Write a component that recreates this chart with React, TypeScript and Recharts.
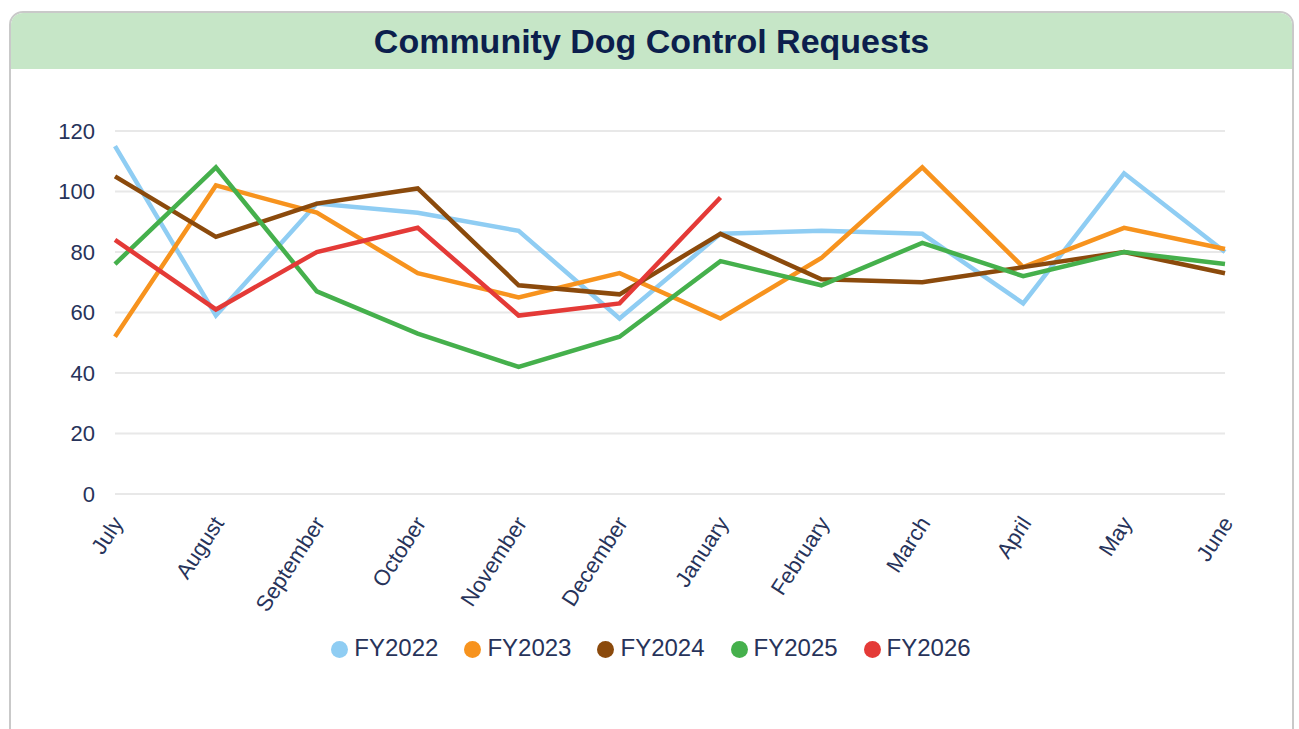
import React from 'react';
import { LineChart, Line, XAxis, YAxis, CartesianGrid, Legend } from 'recharts';

const months = ['July', 'August', 'September', 'October', 'November', 'December', 'January', 'February', 'March', 'April', 'May', 'June'];
const fy2022 = [115, 59, 96, 93, 87, 58, 86, 87, 86, 63, 106, 80];
const fy2023 = [52, 102, 93, 73, 65, 73, 58, 78, 108, 75, 88, 81];
const fy2024 = [105, 85, 96, 101, 69, 66, 86, 71, 70, 75, 80, 73];
const fy2025 = [76, 108, 67, 53, 42, 52, 77, 69, 83, 72, 80, 76];
const fy2026: (number | null)[] = [84, 61, 80, 88, 59, 63, 98, null, null, null, null, null];
const yTicks = [0, 20, 40, 60, 80, 100, 120];

const series = [
  { key: 'FY2022', values: fy2022, color: '#8fcdf3' },
  { key: 'FY2023', values: fy2023, color: '#f7931e' },
  { key: 'FY2024', values: fy2024, color: '#8b4a0c' },
  { key: 'FY2025', values: fy2025, color: '#45b04c' },
  { key: 'FY2026', values: fy2026, color: '#e43a37' },
];

const data = months.map((m, i) => {
  const row: Record<string, string | number | null> = { month: m };
  series.forEach(s => { row[s.key] = s.values[i]; });
  return row;
});

const FONT = '"Liberation Sans", Arial, sans-serif';
const TEXT = '#27335a';

function MonthTick(props: any) {
  const { x, y, payload } = props;
  const ax = x + 9;
  const ay = y + 21;
  return (
    <text
      x={ax}
      y={ay}
      transform={`rotate(-57, ${ax}, ${ay})`}
      textAnchor="end"
      fontSize={22}
      fill={TEXT}
      fontFamily={FONT}
    >
      {payload.value}
    </text>
  );
}

export default function App() {
  return (
    <div style={{ position: 'absolute', left: 0, top: 0, width: 1299, height: 729, overflow: 'hidden', background: '#fff', fontFamily: FONT }}>
      <div style={{
        position: 'absolute', left: 9, top: 11, width: 1281, height: 740,
        border: '2px solid #c9c9c9', borderRadius: 14, overflow: 'hidden', background: '#fff',
      }}>
        <div style={{
          height: 56, background: '#c6e6c7', display: 'flex', alignItems: 'center', justifyContent: 'center',
          fontSize: 34, fontWeight: 700, color: '#0c1f4d',
        }}>
          Community Dog Control Requests
        </div>
      </div>
      <div style={{ position: 'absolute', left: 0, top: 0 }}>
        <LineChart width={1299} height={729} data={data} margin={{ top: 131, right: 74, left: 55, bottom: 67 }}>
          <CartesianGrid stroke="#e8e8e8" strokeWidth={2} vertical={false} />
          <XAxis
            dataKey="month"
            axisLine={false}
            tickLine={false}
            interval={0}
            height={140}
            tick={<MonthTick />}
          />
          <YAxis
            domain={[0, 120]}
            ticks={yTicks}
            width={60}
            axisLine={false}
            tickLine={false}
            tickMargin={14}
            tick={{ fontSize: 22, fill: TEXT, fontFamily: FONT }}
          />
          <Legend
            verticalAlign="bottom"
            align="center"
            iconType="circle"
            iconSize={17}
            wrapperStyle={{ fontSize: 24, fontFamily: FONT, left: 79 }}
            formatter={(v: string) => <span style={{ color: TEXT, marginLeft: 2, marginRight: 16 }}>{v}</span>}
          />
          {series.map(s => (
            <Line
              key={s.key}
              dataKey={s.key}
              name={s.key}
              stroke={s.color}
              strokeWidth={4.5}
              dot={false}
              activeDot={false}
              type="linear"
              isAnimationActive={false}
            />
          ))}
        </LineChart>
      </div>
    </div>
  );
}
